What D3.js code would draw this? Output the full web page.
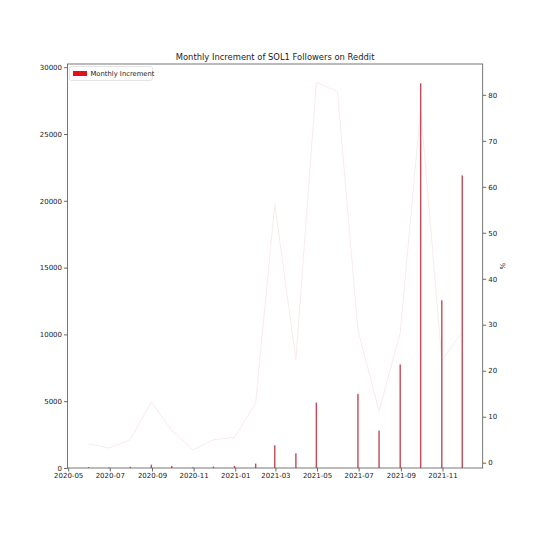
<!DOCTYPE html>
<html><head><meta charset="utf-8">
<script src="https://cdn.jsdelivr.net/npm/d3@7/dist/d3.min.js"></script>
<style>
body{margin:0;background:#fff;}
text{font-family:"DejaVu Sans",sans-serif;fill:#222;}
</style></head>
<body><svg id="c" width="536" height="536"></svg>
<script>
const dates = ["2020-05-31","2020-06-30","2020-07-31","2020-08-31","2020-09-30","2020-10-31","2020-11-30","2020-12-31","2021-01-31","2021-02-28","2021-03-31","2021-04-30","2021-05-31","2021-06-30","2021-07-31","2021-08-31","2021-09-30","2021-10-31","2021-11-30"];
const increments = [60, 40, 90, 250, 150, 50, 100, 150, 330, 1700, 1100, 4900, 0, 5550, 2800, 7750, 28800, 12550, 21900];
const percents = [4.1, 3.2, 5.0, 13.2, 7.0, 2.8, 5.0, 5.5, 13.0, 56.2, 22.4, 82.7, 80.7, 28.9, 11.2, 28.2, 77.0, 22.4, 28.3];
const leftTicks = [0, 5000, 10000, 15000, 20000, 25000, 30000];
const rightTicks = [0, 10, 20, 30, 40, 50, 60, 70, 80];
const xTickDates = ["2020-05-01","2020-07-01","2020-09-01","2020-11-01","2021-01-01","2021-03-01","2021-05-01","2021-07-01","2021-09-01","2021-11-01"];
const title = "Monthly Increment of SOL1 Followers on Reddit";
const legendLabel = "Monthly Increment";

const parse = d3.utcParse("%Y-%m-%d");
const L = 67.5, R = 482.7, T = 64, B = 468;
const svg = d3.select("#c");

const x = d3.scaleUtc().domain([parse("2020-04-30"), parse("2021-12-30")]).range([L, R]);
const yL = d3.scaleLinear().domain([0, 30240]).range([B, T]);
const yR = d3.scaleLinear().domain([-1.15, 86.7]).range([B, T]);

// line (percent)
const line = d3.line().x((d,i)=>x(parse(dates[i]))).y(d=>yR(d));
svg.append("path").datum(percents).attr("d", line)
  .attr("fill","none").attr("stroke","#f8ecea").attr("stroke-width",1);

// bars
svg.append("g").selectAll("rect").data(increments).join("rect")
  .attr("x",(d,i)=>x(parse(dates[i]))-0.7)
  .attr("width",1.4)
  .attr("y",d=>yL(d))
  .attr("height",d=>B-yL(d))
  .attr("fill","#c44a58");

// axes
const fmt = d3.utcFormat("%Y-%m");
const gx = svg.append("g").attr("transform",`translate(0,${B})`)
  .call(d3.axisBottom(x).tickValues(xTickDates.map(parse)).tickFormat(fmt).tickSize(3.5).tickPadding(2));
const gl = svg.append("g").attr("transform",`translate(${L},0)`)
  .call(d3.axisLeft(yL).tickValues(leftTicks).tickFormat(d3.format("d")).tickSize(3.5).tickPadding(2));
const gr = svg.append("g").attr("transform",`translate(${R},0)`)
  .call(d3.axisRight(yR).tickValues(rightTicks).tickFormat(d3.format("d")).tickSize(3.5).tickPadding(2));
[gx,gl,gr].forEach(g=>{
  g.select(".domain").remove();
  g.selectAll("line").attr("stroke","#444").attr("stroke-width",0.8);
  g.selectAll("text").attr("font-size","7px").attr("fill","#222");
});

// frame
svg.append("rect").attr("x",L).attr("y",T).attr("width",R-L).attr("height",B-T)
  .attr("fill","none").attr("stroke","#555").attr("stroke-width",0.8);

// title
svg.append("text").attr("x",(L+R)/2).attr("y",T-4).attr("text-anchor","middle")
  .attr("font-size","8.4px").text(title);

// right label
svg.append("text").attr("transform",`translate(${R+17},${(T+B)/2}) rotate(90)`)
  .attr("text-anchor","middle").attr("font-size","7px").text("%");

// legend
const lg = svg.append("g");
lg.append("rect").attr("x",L+2).attr("y",T+2.5).attr("width",83).attr("height",14)
  .attr("rx",2).attr("fill","#fff").attr("stroke","#ddd").attr("stroke-width",0.8);
lg.append("rect").attr("x",L+5.5).attr("y",T+7).attr("width",14).attr("height",5).attr("fill","#e3111b");
lg.append("text").attr("x",L+23).attr("y",T+12).attr("font-size","6.8px").text(legendLabel);
</script></body></html>
